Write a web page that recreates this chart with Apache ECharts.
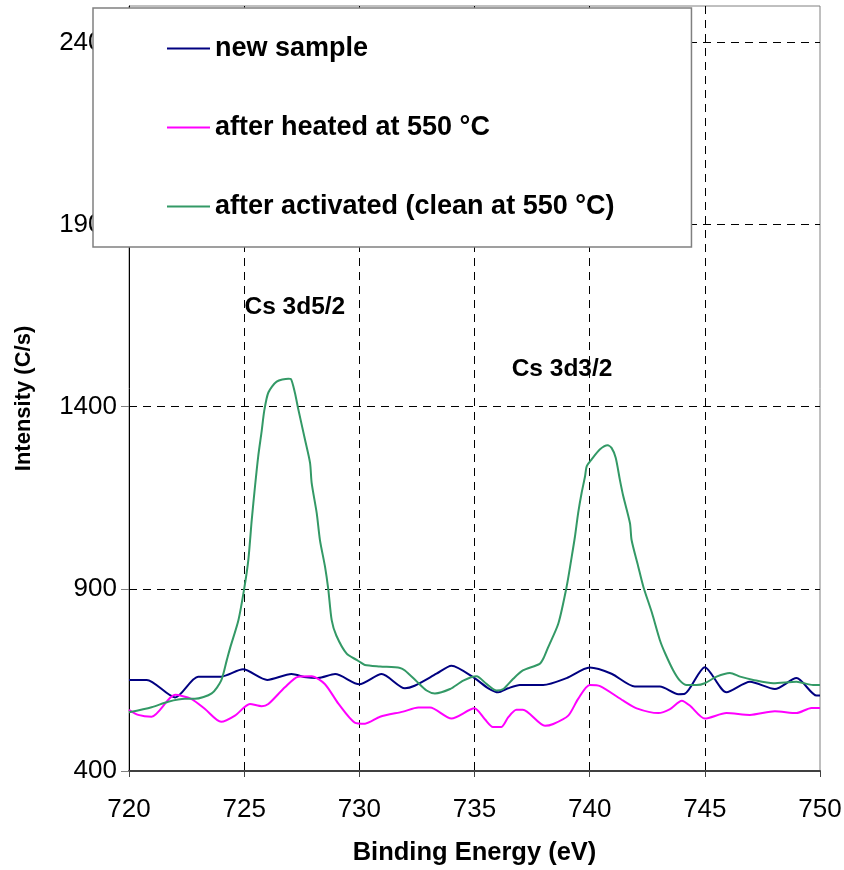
<!DOCTYPE html>
<html>
<head>
<meta charset="utf-8">
<script src="https://cdn.jsdelivr.net/npm/echarts@6/dist/echarts.min.js"></script>
<style>
html,body{margin:0;padding:0;background:#fff;}
#chart{width:844px;height:870px;}
</style>
</head>
<body>
<div id="chart"></div>
<script>
// Series names
const seriesNames = ['new sample', 'after heated at 550 °C', 'after activated (clean at 550 °C)'];

// new sample
const xNew = [720, 720.77, 722.0, 723.0, 724.0, 724.95, 726.0, 727.05, 727.7, 728.2, 728.95, 730.0, 730.97, 731.98, 732.4, 733.35, 734.0, 735.0, 735.6, 736.03, 736.46, 736.97, 737.98, 739.0, 740.0, 740.95, 741.96, 743.05, 743.85, 744.13, 745.0, 745.94, 746.96, 748.04, 748.98, 749.85, 750];
const yNew = [650, 650, 602, 659, 659, 679, 650, 666, 657, 655, 666, 638, 666, 627, 634, 667, 689, 655, 627, 616, 627, 636, 636, 655, 684, 667, 632, 632, 611, 612, 685, 616, 645, 625, 655, 607, 607];

// after heated at 550 °C
const xHeated = [720, 720.4, 720.98, 722.0, 722.7, 723.3, 724.0, 724.6, 725.25, 725.76, 726.05, 726.77, 727.35, 727.93, 728.5, 729.1, 729.8, 730.25, 730.9, 731.9, 732.56, 733.07, 734.0, 735.0, 735.45, 735.8, 736.17, 736.46, 736.82, 737.1, 738.06, 738.42, 739.07, 739.5, 740.0, 740.45, 741.46, 742.04, 742.98, 743.49, 744.0, 744.36, 745.0, 745.94, 746.96, 748.04, 748.98, 749.63, 750];
const yHeated = [568, 554, 549, 609, 598, 570, 535, 552, 584, 578, 584, 630, 659, 660, 639, 584, 533, 530, 549, 563, 574, 574, 544, 572, 542, 521, 521, 547, 568, 568, 524, 529, 552, 598, 636, 633, 593, 572, 559, 570, 593, 579, 544, 559, 554, 564, 559, 573, 573];

// after activated (clean at 550 °C)
const xActivated = [720, 720.98, 721.7, 722.43, 722.86, 723.59, 724.0, 724.24, 724.4, 724.75, 725.0, 725.18, 725.33, 725.47, 725.61, 725.76, 725.87, 726.05, 726.41, 726.92, 727.03, 727.2, 727.35, 727.64, 727.86, 727.93, 728.15, 728.29, 728.51, 728.65, 728.8, 729.0, 729.45, 729.88, 730.03, 730.24, 730.9, 731.77, 731.98, 732.49, 732.92, 733.28, 733.94, 734.51, 735.09, 735.52, 735.96, 736.25, 736.68, 737.1, 737.83, 738.0, 738.2, 738.64, 739.0, 739.22, 739.36, 739.5, 739.65, 739.8, 739.87, 740.08, 740.45, 740.78, 740.95, 741.13, 741.31, 741.46, 741.75, 741.82, 742.11, 742.33, 742.7, 743.05, 743.27, 743.63, 743.92, 744.21, 744.64, 745.0, 745.51, 746.09, 746.53, 747.1, 747.97, 748.98, 749.7, 750];
const yActivated = [561, 575, 590, 598, 598, 613, 648, 703, 740, 814, 900, 979, 1090, 1181, 1264, 1333, 1388, 1439, 1469, 1477, 1476, 1439, 1393, 1310, 1246, 1191, 1108, 1034, 961, 900, 814, 772, 722, 705, 699, 691, 687, 683, 676, 646, 621, 613, 625, 648, 660, 639, 621, 625, 653, 676, 694, 710, 740, 805, 906, 988, 1043, 1108, 1163, 1209, 1236, 1255, 1283, 1294, 1287, 1260, 1200, 1154, 1080, 1034, 961, 906, 835, 759, 724, 676, 648, 636, 636, 641, 659, 669, 659, 650, 641, 645, 636, 636];

// Peak annotations
const annotTexts = ['Cs 3d5/2', 'Cs 3d3/2'];
const annotX = [727.2, 738.8];
const annotY = [1674, 1503];

// Axis settings
const xMin = 720, xMax = 750, xStep = 5;
const yMin = 400, yMax = 2500, yStep = 500;

const colors = ['#000080', '#FF00FF', '#339966'];
const FONT = '"Liberation Sans", Arial, sans-serif';

function pairs(xs, ys) { return xs.map((x, i) => [x, ys[i]]); }

const chart = echarts.init(document.getElementById('chart'), null, {renderer: 'canvas'});

const dashed = {type: [8, 6], color: '#000', width: 1};

const option = {
  animation: false,
  backgroundColor: '#fff',
  grid: {left: 129, right: 24, top: 6, bottom: 99, containLabel: false, outerBoundsMode: 'none',
         show: true, borderColor: '#808080', borderWidth: 1, backgroundColor: 'transparent'},
  legend: {
    orient: 'vertical',
    left: 93, top: 8,
    padding: [27, 77, 27, 74],
    itemGap: 52,
    itemWidth: 43, itemHeight: 2,
    icon: 'rect',
    backgroundColor: '#fff',
    borderColor: '#808080', borderWidth: 1.5,
    textStyle: {fontFamily: FONT, fontWeight: 'bold', fontSize: 27, color: '#000'},
    data: seriesNames,
    z: 10
  },
  xAxis: {
    type: 'value', min: xMin, max: xMax, interval: xStep,
    name: 'Binding Energy (eV)', nameLocation: 'middle', nameGap: 69,
    nameTextStyle: {fontFamily: FONT, fontWeight: 'bold', fontSize: 25.5, color: '#000'},
    axisLine: {show: true, lineStyle: {color: '#404040', width: 2}},
    axisTick: {show: true, length: 6, lineStyle: {color: '#404040', width: 1}},
    axisLabel: {fontFamily: FONT, fontSize: 26, color: '#000', margin: 26},
    splitLine: {show: true, showMinLine: false, showMaxLine: false, lineStyle: dashed}
  },
  yAxis: {
    type: 'value', min: yMin, max: yMax, interval: yStep,
    name: 'Intensity (C/s)', nameLocation: 'middle', nameGap: 94,
    nameTextStyle: {fontFamily: FONT, fontWeight: 'bold', fontSize: 22, color: '#000', padding: [0, 20, 0, 0]},
    axisLine: {show: true, lineStyle: {color: '#000', width: 1}},
    axisTick: {show: true, length: 8, lineStyle: {color: '#808080', width: 1}},
    axisLabel: {fontFamily: FONT, fontSize: 26, color: '#000', margin: 12, showMaxLabel: false,
                formatter: v => String(v)},
    splitLine: {show: true, showMinLine: false, showMaxLine: false, lineStyle: dashed}
  },
  series: [
    {name: seriesNames[0], type: 'line', data: pairs(xNew, yNew), symbol: 'none', smooth: 0.25,
     lineStyle: {color: colors[0], width: 2}, itemStyle: {color: colors[0]}},
    {name: seriesNames[1], type: 'line', data: pairs(xHeated, yHeated), symbol: 'none', smooth: 0.25,
     lineStyle: {color: colors[1], width: 2}, itemStyle: {color: colors[1]}},
    {name: seriesNames[2], type: 'line', data: pairs(xActivated, yActivated), symbol: 'none', smooth: 0.25,
     lineStyle: {color: colors[2], width: 2}, itemStyle: {color: colors[2]},
     markPoint: {
       symbol: 'circle', symbolSize: 1, itemStyle: {color: 'rgba(0,0,0,0)'},
       label: {show: true, position: 'inside', fontFamily: FONT, fontWeight: 'bold', fontSize: 24.5, color: '#000',
               formatter: p => p.name},
       data: annotTexts.map((t, i) => ({name: t, coord: [annotX[i], annotY[i]]}))
     }}
  ]
};
chart.setOption(option);
</script>
</body>
</html>
